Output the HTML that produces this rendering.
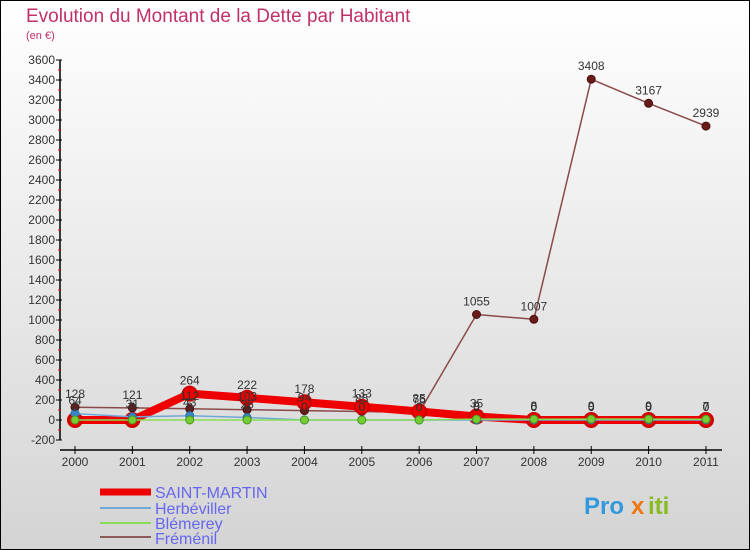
<!DOCTYPE html>
<html><head><meta charset="utf-8"><style>
body{margin:0;}
#wrap{width:750px;height:550px;position:relative;overflow:hidden;font-family:"Liberation Sans","DejaVu Sans",sans-serif;}
</style></head><body>
<div id="wrap">
<svg id="svg" width="750" height="550" xmlns="http://www.w3.org/2000/svg">
<defs><linearGradient id="bg" x1="0" y1="0" x2="0" y2="1"><stop offset="0" stop-color="#ffffff"/><stop offset="1" stop-color="#d4d4d4"/></linearGradient></defs>
<rect x="0.5" y="0.5" width="749" height="549" fill="url(#bg)" stroke="#000"/>
<text x="26" y="22" font-size="19" fill="#c0306a">Evolution du Montant de la Dette par Habitant</text>
<text x="26" y="39" font-size="11" fill="#c0306a">(en €)</text>
<g id="axes"></g><g id="series"></g><g id="labels"></g>
<g>
<line x1="100" y1="492" x2="151" y2="492" stroke="#e00" stroke-width="7"/>
<text x="155" y="498" font-size="16" fill="#6666ee">SAINT-MARTIN</text>
<line x1="100" y1="508" x2="151" y2="508" stroke="#6fa7d6" stroke-width="2"/>
<text x="155" y="514" font-size="16" fill="#6666ee">Herbéviller</text>
<line x1="100" y1="523" x2="151" y2="523" stroke="#88dd55" stroke-width="2"/>
<text x="155" y="529" font-size="16" fill="#6666ee">Blémerey</text>
<line x1="100" y1="537" x2="151" y2="537" stroke="#8a5a5a" stroke-width="2"/>
<text x="155" y="544" font-size="16" fill="#6666ee">Fréménil</text>
</g>
<g font-size="24" font-weight="bold">
<text x="584" y="514" fill="#3399dd">Pro</text><text x="631" y="514" fill="#ee7711">x</text><text x="648" y="514" fill="#88bb22">iti</text>
</g>
</svg>
</div>
<script>
const years=["2000","2001","2002","2003","2004","2005","2006","2007","2008","2009","2010","2011"];
const yTicks=[-200,0,200,400,600,800,1000,1200,1400,1600,1800,2000,2200,2400,2600,2800,3000,3200,3400,3600];
const saintMartin=[0,0,264,222,178,133,85,35,0,0,0,0];
const herbeviller=[64,31,43,25,0,0,0,0,0,0,0,0];
const blemerey=[0,0,0,0,0,0,0,9,8,9,9,7];
const fremenil=[128,121,112,103,94,85,76,1055,1007,3408,3167,2939];
const NS="http://www.w3.org/2000/svg";
function X(i){return 75+i*57.36;}
function Y(v){return 420-v*0.1;}
function mk(tag,attrs,parent){const e=document.createElementNS(NS,tag);for(const k in attrs)e.setAttribute(k,attrs[k]);parent.appendChild(e);return e;}
const axes=document.getElementById('axes'),ser=document.getElementById('series'),lab=document.getElementById('labels');
let a=mk('line',{x1:60,y1:Y(3600),x2:60,y2:Y(-200),stroke:'#000','stroke-width':1.5},axes);


yTicks.forEach((v,k)=>{
 let t=mk('line',{x1:56,y1:Y(v),x2:62,y2:Y(v),stroke:'#000'},axes);
 
 
 if(k<yTicks.length-1){
  let m=mk('line',{x1:58,y1:Y(v+100),x2:61,y2:Y(v+100),stroke:'#e00'},axes);
  
  
 }
 let tx=mk('text',{x:55,y:Y(v)+4,'font-size':12,'text-anchor':'end',fill:'#333'},axes);tx.textContent=v;
 
 
});
let xa=mk('line',{x1:60,y1:450,x2:722,y2:450,stroke:'#000','stroke-width':1.5},axes);


years.forEach((y,i)=>{
 let t=mk('line',{x1:X(i),y1:446,x2:X(i),y2:454,stroke:'#000'},axes);
 
 
 let tx=mk('text',{x:X(i),y:466,'font-size':12,'text-anchor':'middle',fill:'#333'},axes);tx.textContent=y;
 
 
});
function series(name,vals,color,w,r,fill,stroke){
 const g=mk('g',{},ser);
 
 
 let p=mk('polyline',{points:vals.map((v,i)=>X(i)+','+Y(v)).join(' '),fill:'none',stroke:color,'stroke-width':w,'stroke-linejoin':'round'},g);
 
 
 vals.forEach((v,i)=>{
  let c=mk('circle',{cx:X(i),cy:Y(v),r:r,fill:fill,stroke:stroke,'stroke-width':r>5?2:1},g);
  
  
  let t=mk('text',{x:X(i),y:Y(v)-9,'font-size':12,'text-anchor':'middle',fill:'#333'},lab);t.textContent=v;
  
  
 });
}
series('fremenil',fremenil,'#8a4a4a',1.5,4,'#6b1a1a','#4a0f0f');
series('saint-martin',saintMartin,'#ee0000',8,7,'#ee0000','#cc0000');
series('herbeviller',herbeviller,'#6fa7d6',1.5,4,'#3a86c6','#2a6ea6');
series('blemerey',blemerey,'#88dd55',1.5,4,'#77cc33','#449922');
</script>
</body></html>
